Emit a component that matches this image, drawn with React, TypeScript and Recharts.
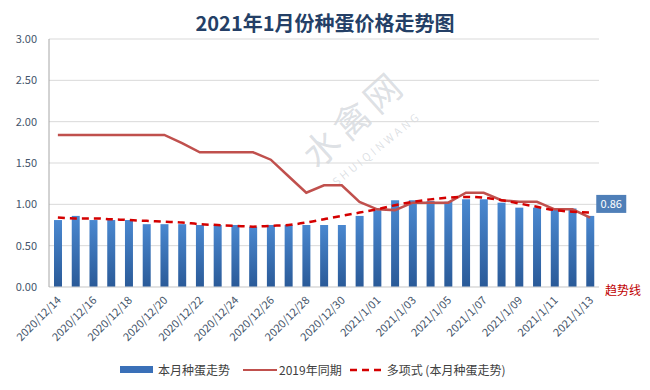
import { Bar, CartesianGrid, ComposedChart, Line, XAxis, YAxis } from "recharts";

const dates = [
  "2020/12/14", "2020/12/15", "2020/12/16", "2020/12/17", "2020/12/18", "2020/12/19",
  "2020/12/20", "2020/12/21", "2020/12/22", "2020/12/23", "2020/12/24", "2020/12/25",
  "2020/12/26", "2020/12/27", "2020/12/28", "2020/12/29", "2020/12/30", "2020/12/31",
  "2021/1/01", "2021/1/02", "2021/1/03", "2021/1/04", "2021/1/05", "2021/1/06",
  "2021/1/07", "2021/1/08", "2021/1/09", "2021/1/10", "2021/1/11", "2021/1/12", "2021/1/13",
];

// 本月种蛋走势
const thisMonth = [
  0.81, 0.86, 0.81, 0.81, 0.81, 0.76, 0.76, 0.76, 0.75, 0.75, 0.75, 0.73, 0.75, 0.75, 0.75,
  0.75, 0.75, 0.86, 0.93, 1.05, 1.05, 1.04, 1.03, 1.06, 1.06, 1.02, 0.96, 0.96, 0.95, 0.95, 0.86,
];

// 2019年同期
const lastYear = [
  1.84, 1.84, 1.84, 1.84, 1.84, 1.84, 1.84, 1.74, 1.63, 1.63, 1.63, 1.63, 1.54, 1.34, 1.14,
  1.23, 1.23, 1.03, 0.94, 0.93, 1.02, 1.02, 1.02, 1.14, 1.14, 1.05, 1.03, 1.03, 0.94, 0.94, 0.84,
];

// 多项式 (本月种蛋走势)
const trend = [
  0.84, 0.83, 0.83, 0.82, 0.81, 0.8, 0.79, 0.78, 0.76, 0.75, 0.74, 0.73, 0.74, 0.75, 0.78,
  0.82, 0.86, 0.9, 0.94, 0.99, 1.03, 1.06, 1.08, 1.09, 1.08, 1.05, 1.01, 0.97, 0.93, 0.91, 0.9,
];

const yTicks = [0, 0.5, 1, 1.5, 2, 2.5, 3];

const data = dates.map((date, i) => ({
  date,
  thisMonth: thisMonth[i],
  lastYear: lastYear[i],
  trend: trend[i],
}));

const FONT = "'Noto Sans CJK SC', 'Noto Sans', sans-serif";

const DateTick = (props: any) => {
  const { x, y, payload } = props;
  const tx = x + 4;
  const ty = y + 6;
  return (
    <text
      x={tx}
      y={ty}
      transform={`rotate(-45 ${tx} ${ty})`}
      textAnchor="end"
      fontSize={11}
      fill="#44546a"
      fontFamily={FONT}
    >
      {payload.value}
    </text>
  );
};

const LastLabel = (props: any) => {
  const { x, y, width, value, index } = props;
  if (index !== dates.length - 1) return null;
  const bx = x + width + 2;
  return (
    <g>
      <rect x={bx} y={y - 21} width={30} height={18} fill="#4f7fb8" />
      <text x={bx + 15} y={y - 8} textAnchor="middle" fontSize={11} fill="#fff" fontFamily={FONT}>
        {Number(value).toFixed(2)}
      </text>
    </g>
  );
};

export default function App() {
  return (
    <div
      style={{
        position: "absolute",
        left: 0,
        top: 0,
        width: 650,
        height: 390,
        background: "#fff",
        fontFamily: FONT,
        overflow: "hidden",
      }}
    >
      {/* watermark */}
      <div
        style={{
          position: "absolute",
          left: 287,
          top: 92,
          width: 130,
          textAlign: "center",
          lineHeight: "50px",
          transform: "rotate(-42deg)",
          color: "rgba(140,150,165,0.3)",
          fontSize: 36,
          fontWeight: 400,
          letterSpacing: 5,
          whiteSpace: "nowrap",
        }}
      >
        水禽网
      </div>
      <div
        style={{
          position: "absolute",
          left: 316,
          top: 140,
          width: 120,
          textAlign: "center",
          lineHeight: "16px",
          transform: "rotate(-39deg)",
          color: "rgba(140,150,165,0.3)",
          fontSize: 11,
          letterSpacing: 3,
          whiteSpace: "nowrap",
        }}
      >
        SHUIQINWANG
      </div>

      <div
        style={{
          position: "absolute",
          left: 0,
          top: 8,
          width: 650,
          textAlign: "center",
          fontSize: 20,
          fontWeight: 700,
          color: "#243f66",
        }}
      >
        2021年1月份种蛋价格走势图
      </div>

      <div style={{ position: "absolute", left: 0, top: 0 }}>
        <ComposedChart width={650} height={390} data={data} margin={{ top: 39, right: 51, left: 0, bottom: 0 }}>
          <defs>
            <linearGradient id="barFill" x1="0" y1="0" x2="0" y2="1">
              <stop offset="0%" stopColor="#4a88d0" />
              <stop offset="100%" stopColor="#2a5a98" />
            </linearGradient>
          </defs>
          <CartesianGrid vertical={false} stroke="#d9d9d9" />
          <XAxis
            dataKey="date"
            interval={1}
            height={103}
            tickLine={false}
            axisLine={{ stroke: "#d9d9d9" }}
            tick={<DateTick />}
          />
          <YAxis
            domain={[0, 3]}
            ticks={yTicks}
            width={49}
            tickLine={false}
            axisLine={{ stroke: "#a6a6a6" }}
            tickFormatter={(v: number) => v.toFixed(2)}
            tick={{ fontSize: 11, fill: "#44546a", fontFamily: FONT, dx: -4 }}
          />
          <Bar dataKey="thisMonth" barSize={8} fill="url(#barFill)" isAnimationActive={false} label={<LastLabel />} />
          <Line
            type="linear"
            dataKey="lastYear"
            stroke="#c0504d"
            strokeWidth={2.5}
            dot={false}
            isAnimationActive={false}
          />
          <Line
            type="monotone"
            dataKey="trend"
            stroke="#d40000"
            strokeWidth={2.5}
            strokeDasharray="7 5"
            dot={false}
            isAnimationActive={false}
          />
        </ComposedChart>
      </div>

      <div style={{ position: "absolute", left: 605, top: 281, fontSize: 12, color: "#c00000" }}>趋势线</div>

      {/* legend */}
      <div
        style={{
          position: "absolute",
          left: 120,
          top: 361,
          display: "flex",
          alignItems: "center",
          fontSize: 12,
          color: "#404040",
          whiteSpace: "nowrap",
        }}
      >
        <span style={{ display: "inline-block", width: 33, height: 7, background: "#3a70b8", marginRight: 5 }} />
        <span style={{ marginRight: 13 }}>本月种蛋走势</span>
        <svg width={34} height={10} style={{ marginRight: 2 }}>
          <line x1={0} y1={5} x2={34} y2={5} stroke="#c0504d" strokeWidth={2} />
        </svg>
        <span style={{ marginRight: 8 }}>2019年同期</span>
        <svg width={35} height={10} style={{ marginRight: 2 }}>
          <line x1={0} y1={5} x2={35} y2={5} stroke="#d40000" strokeWidth={2.5} strokeDasharray="7 5" />
        </svg>
        <span>多项式 (本月种蛋走势)</span>
      </div>
    </div>
  );
}
